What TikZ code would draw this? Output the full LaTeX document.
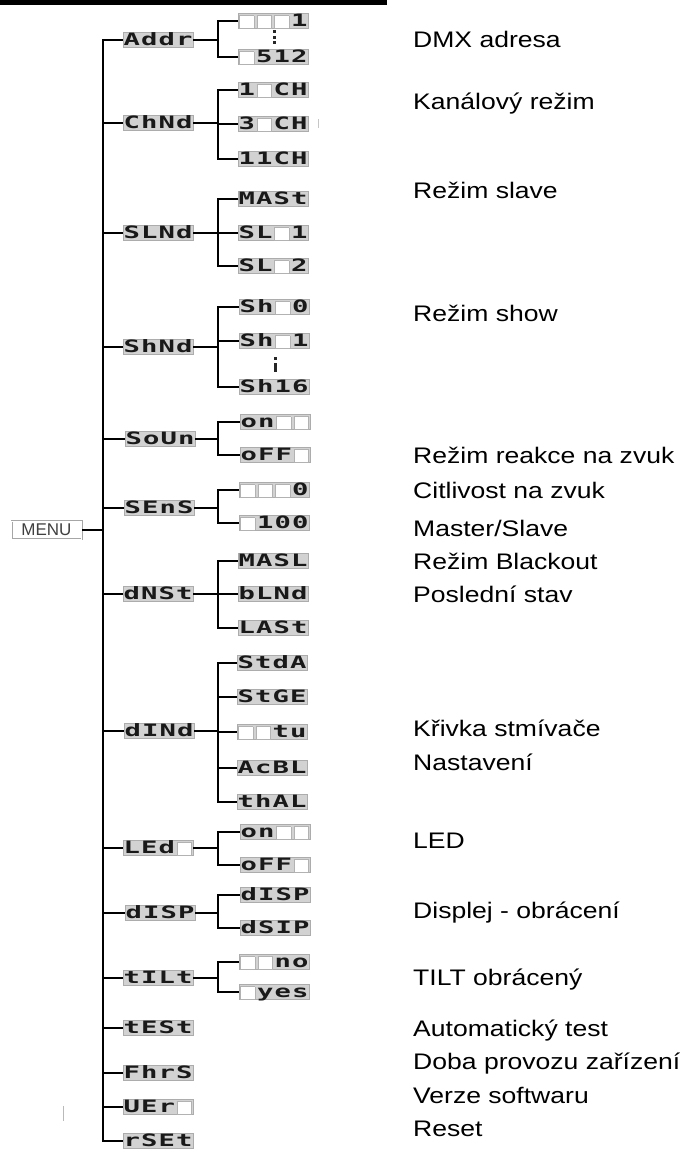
\documentclass[tikz,border=0pt]{standalone}
\usepackage{fontspec}
\setmainfont{Liberation Sans}
\newfontfamily\rtfont[FakeStretch=1.18]{Liberation Sans}
\newfontfamily\segfont[FakeStretch=1.6]{DejaVu Sans Mono}
\newcommand\dgc[1]{\makebox[17.5pt][c]{#1}}
\newcommand\dgb{\makebox[17.5pt][c]{\raisebox{-1.2pt}{\setlength\fboxsep{0pt}\setlength\fboxrule{0.7pt}\fcolorbox{gray!60}{white}{\rule{0pt}{11.6pt}\rule{14pt}{0pt}}}}}
\def\segone#1{\if-#1\dgb\else\dgc{#1}\fi}
\def\segloop#1{\ifx\relax#1\else\segone{#1}\expandafter\segloop\fi}
\newcommand\seg[1]{\segloop#1\relax}
\tikzset{
  seg/.style={draw=gray!65, fill=gray!35, line width=0.7pt, inner sep=0pt,
    minimum height=15pt, minimum width=70pt, text height=12.2pt, text depth=1.2pt,
    text=black!90, font=\segfont\bfseries\fontsize{17}{17}\selectfont},
  rt/.style={anchor=base west, inner sep=0pt, font=\rtfont\fontsize{22.5}{24}\selectfont},
  conn/.style={line width=2pt},
  conn2/.style={line width=2.6pt},
  menubox/.style={draw=gray!70, double=white, double distance=0.8pt, line width=0.6pt, fill=white,
    minimum width=70pt, minimum height=18pt, inner sep=0pt, text=black!75,
    font=\fontsize{17}{17}\selectfont}
}
\begin{document}
\begin{tikzpicture}[x=1pt,y=-1pt]
\useasboundingbox (0,0) rectangle (685,1149);
\fill[black] (0,0) rectangle (387,5);
\coordinate (tr) at (103,0);
\coordinate (br) at (218,0);
% MENU
\node[menubox] (menu) at (46.5,530) {MENU};
% first level
\node[seg] (addr) at (158,40) {\seg{Addr}};
\node[seg] (chnd) at (158,123) {\seg{ChNd}};
\node[seg] (slnd) at (158,233) {\seg{SLNd}};
\node[seg] (shnd) at (158,347) {\seg{ShNd}};
\node[seg] (soun) at (160,439) {\seg{SoUn}};
\node[seg] (sens) at (159,508) {\seg{SEnS}};
\node[seg] (dnst) at (158,594) {\seg{dNSt}};
\node[seg] (dind) at (159,731) {\seg{dINd}};
\node[seg] (led) at (158,848) {\seg{LEd-}};
\node[seg] (disp) at (160,913) {\seg{dISP}};
\node[seg] (tilt) at (158,978) {\seg{tILt}};
\node[seg] (test) at (158,1028) {\seg{tESt}};
\node[seg] (fhrs) at (158,1073) {\seg{FhrS}};
\node[seg] (uer) at (158,1107) {\seg{UEr-}};
\node[seg] (rset) at (158,1141) {\seg{rSEt}};
% second level
\node[seg] (a1) at (273,21) {\seg{---1}};
\node[seg] (a2) at (273,57) {\seg{-512}};
\node[seg] (c1) at (273,90) {\seg{1-CH}};
\node[seg] (c2) at (273,124) {\seg{3-CH}};
\node[seg] (c3) at (273,159) {\seg{11CH}};
\node[seg] (s1) at (273,199) {\seg{MASt}};
\node[seg] (s2) at (273,233) {\seg{SL-1}};
\node[seg] (s3) at (273,266) {\seg{SL-2}};
\node[seg] (h1) at (274,307) {\seg{Sh-0}};
\node[seg] (h2) at (274,341) {\seg{Sh-1}};
\node[seg] (h3) at (274,387) {\seg{Sh16}};
\node[seg] (o1) at (275,422) {\seg{on--}};
\node[seg] (o2) at (275,455) {\seg{oFF-}};
\node[seg] (e1) at (274,490) {\seg{---0}};
\node[seg] (e2) at (274,523) {\seg{-100}};
\node[seg] (n1) at (273,561) {\seg{MASL}};
\node[seg] (n2) at (273,594) {\seg{bLNd}};
\node[seg] (n3) at (273,628) {\seg{LASt}};
\node[seg] (i1) at (272,663) {\seg{StdA}};
\node[seg] (i2) at (272,697) {\seg{StGE}};
\node[seg] (i3) at (272,732) {\seg{--tu}};
\node[seg] (i4) at (272,768) {\seg{AcBL}};
\node[seg] (i5) at (272,802) {\seg{thAL}};
\node[seg] (l1) at (275,832) {\seg{on--}};
\node[seg] (l2) at (275,865) {\seg{oFF-}};
\node[seg] (p1) at (275,895) {\seg{dISP}};
\node[seg] (p2) at (275,928) {\seg{dSIP}};
\node[seg] (t1) at (274,962) {\seg{--no}};
\node[seg] (t2) at (274,992) {\seg{-yes}};
% trunk
\draw[conn] (addr.west) -- (addr.west -| tr) -- (rset.west -| tr) -- (rset.west);
\foreach \n in {chnd,slnd,shnd,soun,sens,dnst,dind,led,disp,tilt,test,fhrs,uer}
  \draw[conn] (\n.west) -- (\n.west -| tr);
\draw[conn] (menu.east) -- (menu.east -| tr);
% branches
\foreach \p/\f/\l in {addr/a1/a2, chnd/c1/c3, slnd/s1/s3, shnd/h1/h3, soun/o1/o2, sens/e1/e2,
  dnst/n1/n3, dind/i1/i5, led/l1/l2, disp/p1/p2, tilt/t1/t2}{
  \draw[conn2] (\p.east) -- (\p.east -| br);
  \draw[conn2] (\f.west) -- (\f.west -| br) -- (\l.west -| br) -- (\l.west);
}
\foreach \m in {c2,s2,h2,n2,i2,i3,i4}
  \draw[conn2] (\m.west) -- (\m.west -| br);
% ellipsis marks
\fill[black!85] (272.5,30) rectangle (275.5,33);
\fill[black!85] (272.5,35.5) rectangle (275.5,38.5);
\fill[black!85] (272.5,41) rectangle (275.5,44);
\fill[black!85] (273.5,357) rectangle (276.5,360);
\fill[black!85] (273.5,363) rectangle (276.5,372);
% stray marks
\draw[gray!45, line width=1pt] (318,119) -- (318,128);
\draw[gray!55, line width=1pt] (63,1106) -- (63,1121);
% descriptions
\node[rt] (r1) at (413,47) {DMX adresa};
\node[rt] (r2) at (413,109) {Kanálový režim};
\node[rt] (r3) at (413,198) {Režim slave};
\node[rt] (r4) at (413,321) {Režim show};
\node[rt] (r5) at (413,463) {Režim reakce na zvuk};
\node[rt] (r6) at (413,498) {Citlivost na zvuk};
\node[rt] (r7) at (413,536) {Master/Slave};
\node[rt] (r8) at (413,569) {Režim Blackout};
\node[rt] (r9) at (413,602) {Poslední stav};
\node[rt] (r10) at (413,736) {Křivka stmívače};
\node[rt] (r11) at (413,770) {Nastavení};
\node[rt] (r12) at (413,848) {LED};
\node[rt] (r13) at (413,918) {Displej - obrácení};
\node[rt] (r14) at (413,985) {TILT obrácený};
\node[rt] (r15) at (413,1036) {Automatický test};
\node[rt] (r16) at (413,1069) {Doba provozu zařízení};
\node[rt] (r17) at (413,1103) {Verze softwaru};
\node[rt] (r18) at (413,1136) {Reset};
\end{tikzpicture}
\end{document}
